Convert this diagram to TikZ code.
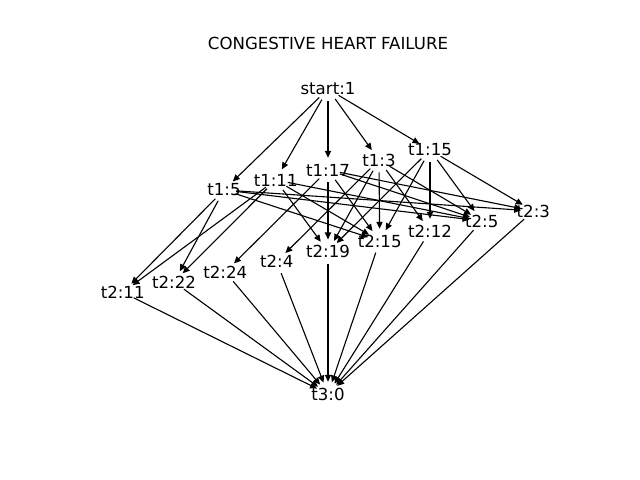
\documentclass[tikz,border=0pt]{standalone}
\usepackage{fontspec}
\setmainfont{DejaVu Sans}
\usetikzlibrary{arrows.meta}
\begin{document}
\begin{tikzpicture}[x=0.254mm,y=-0.254mm,
  vert/.style={circle, minimum size=6.1mm, inner sep=0pt},
  edge/.style={-{Triangle[length=5pt,width=4.5pt]}, line width=0.8pt},
  every label/.style={font=\fontsize{12}{14}\selectfont, inner sep=0pt}]
\useasboundingbox (0,0) rectangle (640,480);
\node[font=\fontsize{12}{14}\selectfont] (title) at (328,43) {CONGESTIVE HEART FAILURE};

\node[vert, label={center:{start:1}}] (start) at (328,89) {};

\node[vert, label={center:{t1:5}}] (t1n5) at (224,190) {};
\node[vert, label={center:{t1:11}}] (t1n11) at (275.7,180) {};
\node[vert, label={center:{t1:17}}] (t1n17) at (328,170) {};
\node[vert, label={center:{t1:3}}] (t1n3) at (379,160) {};
\node[vert, label={center:{t1:15}}] (t1n15) at (430,150) {};

\node[vert, label={center:{t2:11}}] (t2n11) at (122.7,292.4) {};
\node[vert, label={center:{t2:22}}] (t2n22) at (174,282) {};
\node[vert, label={center:{t2:24}}] (t2n24) at (225.3,272) {};
\node[vert, label={center:{t2:4}}] (t2n4) at (276.7,261.7) {};
\node[vert, label={center:{t2:19}}] (t2n19) at (328,251.7) {};
\node[vert, label={center:{t2:15}}] (t2n15) at (379.7,241) {};
\node[vert, label={center:{t2:12}}] (t2n12) at (430,231) {};
\node[vert, label={center:{t2:5}}] (t2n5) at (481.7,221) {};
\node[vert, label={center:{t2:3}}] (t2n3) at (533.3,211) {};

\node[vert, label={center:{t3:0}}] (end) at (328,394) {};

\draw[edge] (start) -- (t1n5);
\draw[edge] (start) -- (t1n11);
\draw[edge] (start) -- (t1n17);
\draw[edge] (start) -- (t1n3);
\draw[edge] (start) -- (t1n15);

\draw[edge] (t1n5) -- (t2n11);
\draw[edge] (t1n5) -- (t2n22);
\draw[edge] (t1n5) -- (t2n15);
\draw[edge] (t1n5) -- (t2n5);
\draw[edge] (t1n5) -- (t2n3);

\draw[edge] (t1n11) -- (t2n11);
\draw[edge] (t1n11) -- (t2n22);
\draw[edge] (t1n11) -- (t2n19);
\draw[edge] (t1n11) -- (t2n15);
\draw[edge] (t1n11) -- (t2n5);

\draw[edge] (t1n17) -- (t2n24);
\draw[edge] (t1n17) -- (t2n19);
\draw[edge] (t1n17) -- (t2n15);
\draw[edge] (t1n17) -- (t2n5);
\draw[edge] (t1n17) -- (t2n3);

\draw[edge] (t1n3) -- (t2n4);
\draw[edge] (t1n3) -- (t2n19);
\draw[edge] (t1n3) -- (t2n15);
\draw[edge] (t1n3) -- (t2n12);
\draw[edge] (t1n3) -- (t2n5);

\draw[edge] (t1n15) -- (t2n19);
\draw[edge] (t1n15) -- (t2n15);
\draw[edge] (t1n15) -- (t2n12);
\draw[edge] (t1n15) -- (t2n5);
\draw[edge] (t1n15) -- (t2n3);

\draw[edge] (t2n11) -- (end);
\draw[edge] (t2n22) -- (end);
\draw[edge] (t2n24) -- (end);
\draw[edge] (t2n4) -- (end);
\draw[edge] (t2n19) -- (end);
\draw[edge] (t2n15) -- (end);
\draw[edge] (t2n12) -- (end);
\draw[edge] (t2n5) -- (end);
\draw[edge] (t2n3) -- (end);
\end{tikzpicture}
\end{document}
